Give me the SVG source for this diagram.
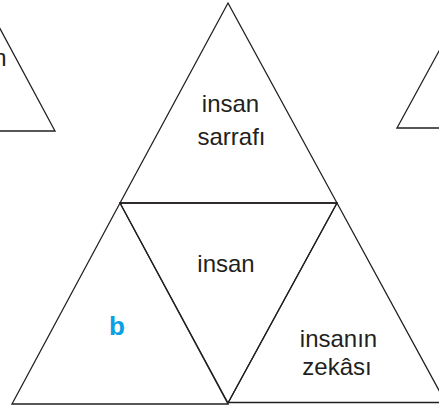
<svg xmlns="http://www.w3.org/2000/svg" width="439" height="407" viewBox="0 0 439 407">
<style>
.tri{fill:none;stroke:#231f20;stroke-width:1.3;stroke-linejoin:miter}
.t{font-family:"Liberation Sans",Arial,Helvetica,sans-serif;font-size:24px;fill:#231f20;text-anchor:middle}
.b{font-family:"Liberation Sans",Arial,Helvetica,sans-serif;font-size:26px;font-weight:bold;fill:#0aa0e6;text-anchor:middle}
</style>
<rect width="439" height="407" fill="#ffffff"/>
<g id="left-partial">
<polyline class="tri" points="-2,25 55,131 -2,131"/>
<text class="t" x="6.5" y="66" style="text-anchor:end">n</text>
</g>
<g id="right-partial">
<polyline class="tri" points="445,40 397,128 441,128"/>
</g>
<g id="top">
<polygon class="tri" points="228,3 337,203 120,203"/>
<text class="t" x="230.5" y="112">insan</text>
<text class="t" x="231.5" y="145">sarrafı</text>
</g>
<g id="middle">
<polygon class="tri" points="120,203 337,203 228,403"/>
<text class="t" x="226" y="272">insan</text>
</g>
<g id="left-bottom">
<polygon class="tri" points="120,203 228,404 12,404"/>
<text class="b" x="117" y="334.5">b</text>
</g>
<g id="right-bottom">
<polyline class="tri" points="228,403 337,203 447,405"/>
<line class="tri" x1="228" y1="402.5" x2="441" y2="402.5"/>
<text class="t" x="338.5" y="347">insanın</text>
<text class="t" x="337" y="375">zekâsı</text>
</g>
</svg>
